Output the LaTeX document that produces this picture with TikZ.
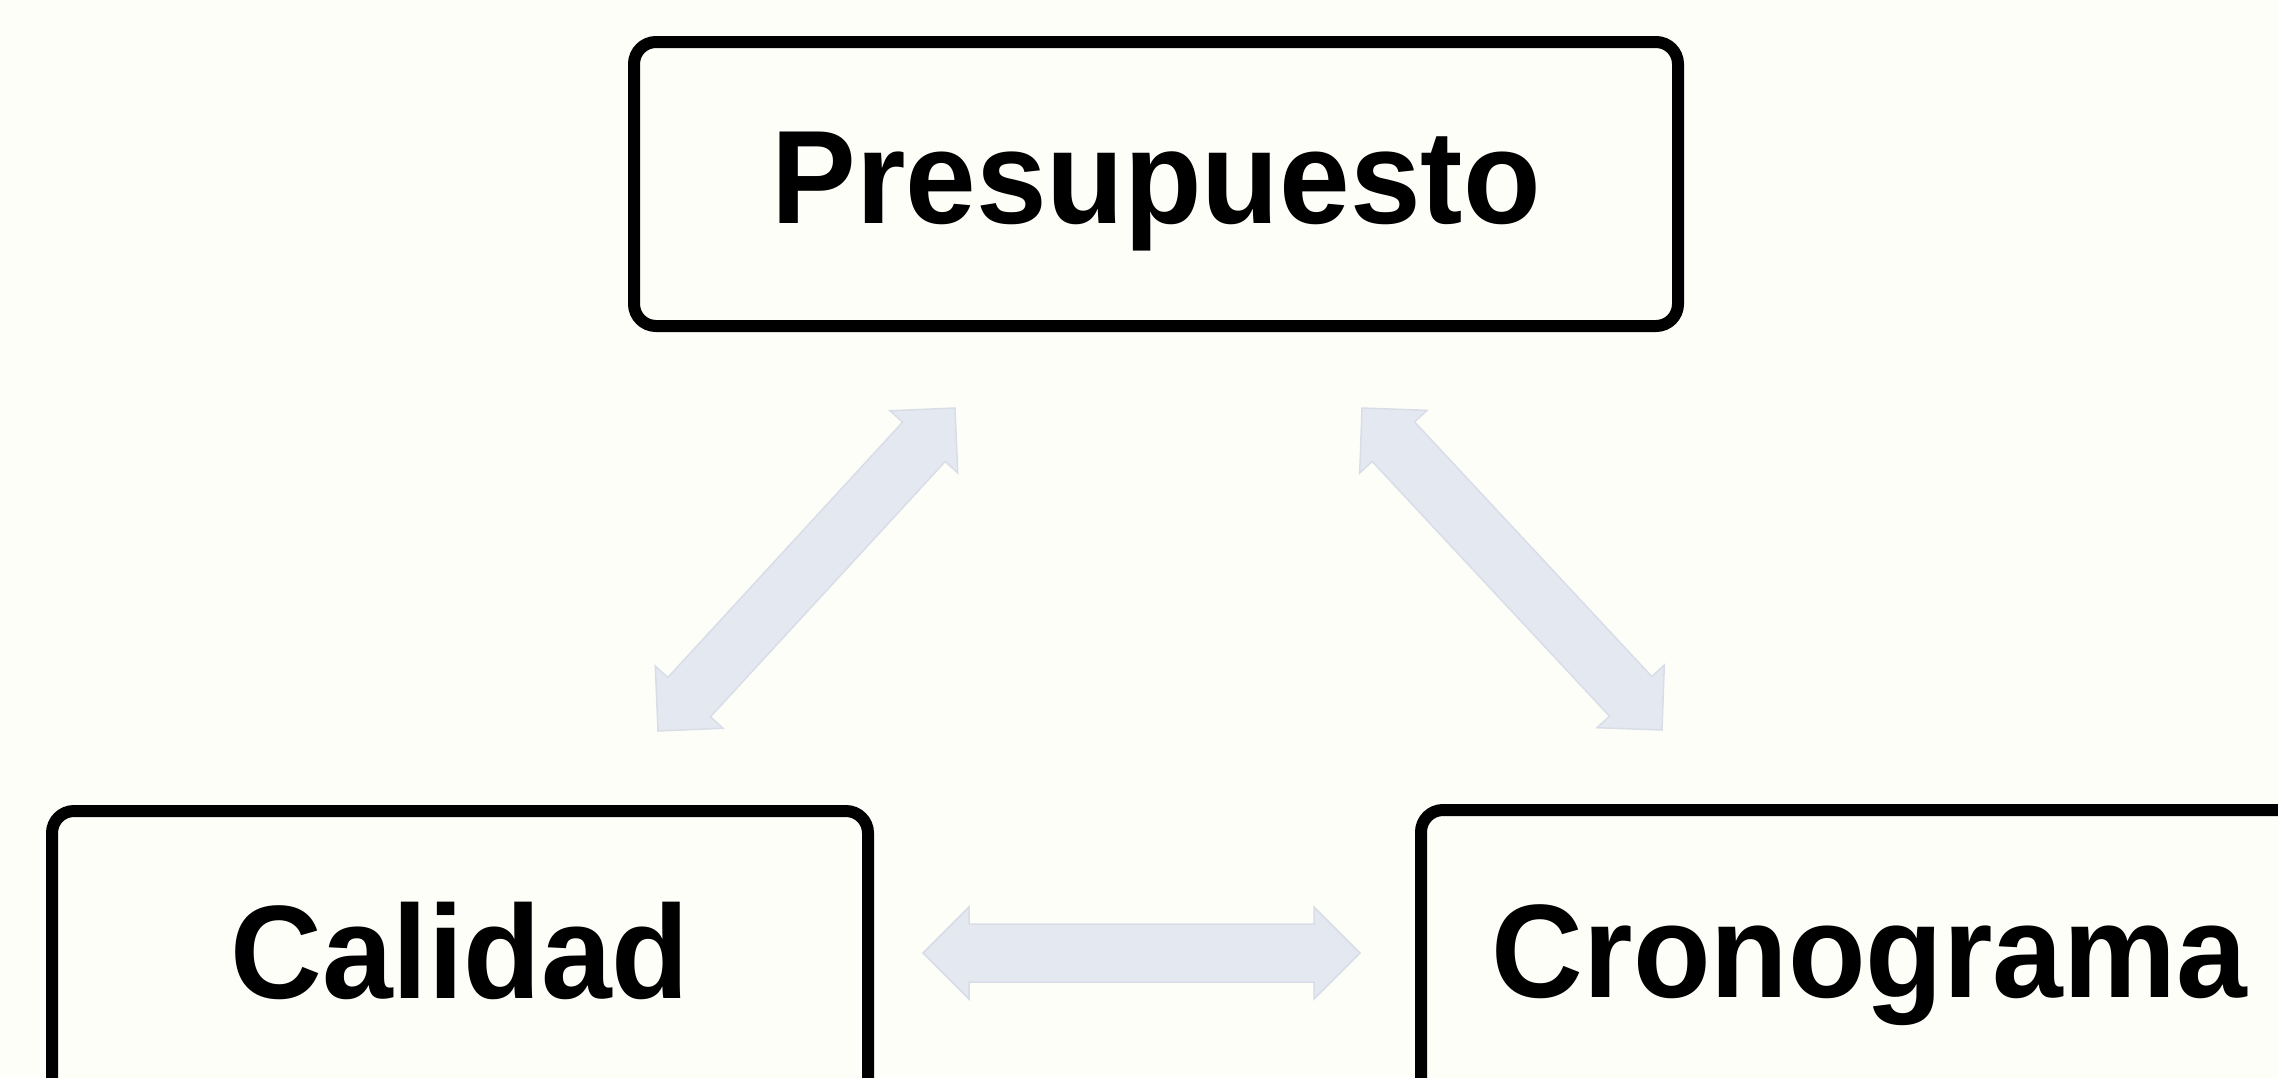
\documentclass[tikz,border=0pt]{standalone}
\usepackage{graphicx}
\usepackage{fontspec}
\setmainfont{Liberation Sans}
\usetikzlibrary{calc}
\definecolor{bg}{RGB}{254,254,249}
\definecolor{arrowfill}{RGB}{227,232,241}
\definecolor{arrowedge}{RGB}{216,221,232}
\newcommand{\mydblarrow}[2]{%
  \coordinate (#1h) at ($(#1)!46pt!(#2)$);
  \coordinate (#2h) at ($(#2)!46pt!(#1)$);
  \filldraw[blockarrow] (#1)
    -- ($(#1h)!46pt!90:(#2)$) -- ($(#1h)!29pt!90:(#2)$)
    -- ($(#2h)!29pt!-90:(#1)$) -- ($(#2h)!46pt!-90:(#1)$)
    -- (#2)
    -- ($(#2h)!46pt!90:(#1)$) -- ($(#2h)!29pt!90:(#1)$)
    -- ($(#1h)!29pt!-90:(#2)$) -- ($(#1h)!46pt!-90:(#2)$)
    -- cycle;}
\begin{document}
\begin{tikzpicture}[x=1pt,y=-1pt,
  box/.style={draw=black, line width=12pt, rounded corners=22pt, fill=bg,
    inner sep=0pt, text height=100pt, text depth=22pt,
    font=\bfseries\fontsize{133}{140}\selectfont},
  blockarrow/.style={fill=arrowfill, draw=arrowedge, line width=1.5pt, line join=miter}]
\useasboundingbox (0,0) rectangle (2278,1077);
\fill[bg] (0,0) rectangle (2278,1077);
% boxes
\node[box, minimum width=1044pt, minimum height=284pt] (pres) at (1156,184) {\scalebox{0.955}[1]{Presupuesto}};
\node[box, minimum width=816pt, minimum height=296pt] (cal) at (460,959) {\scalebox{0.955}[1]{Calidad}};
\node[box, minimum width=897pt, minimum height=296pt] (cron) at (1869.5,958) {\scalebox{0.955}[1]{Cronograma}};
% arrow end points
\coordinate (a1) at (955,408);
\coordinate (b1) at (658,731);
\coordinate (a2) at (1362,408);
\coordinate (b2) at (1662,730);
\coordinate (a3) at (923,953);
\coordinate (b3) at (1360,953);
\mydblarrow{a1}{b1}
\mydblarrow{a2}{b2}
\mydblarrow{a3}{b3}
\end{tikzpicture}
\end{document}
